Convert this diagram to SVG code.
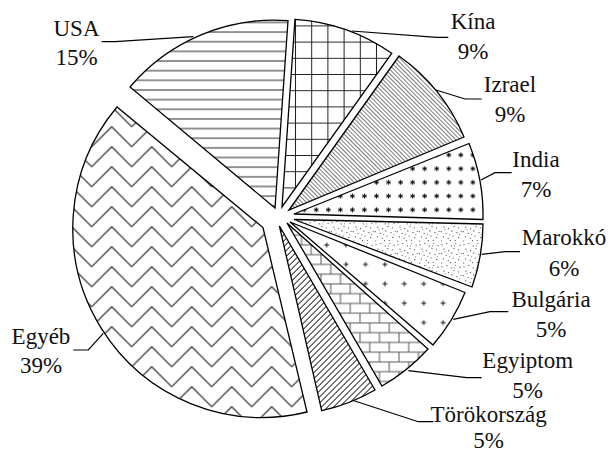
<svg xmlns="http://www.w3.org/2000/svg" width="611" height="451" viewBox="0 0 611 451">
<style>
.sl{stroke:#000;stroke-width:1.3;stroke-linejoin:miter}
.lb{font-size:23px;fill:#111;text-anchor:middle}
.ld{fill:none;stroke:#000;stroke-width:1.2}
</style>
<defs>
<pattern id="pUSA" patternUnits="userSpaceOnUse" x="0" y="36.9" width="40" height="9.65">
<path d="M0,4.8H40" stroke="#222" stroke-width="1"/>
</pattern>
<pattern id="pKina" patternUnits="userSpaceOnUse" x="303.6" y="50.2" width="16.2" height="16.2">
<path d="M8.1,0V16.2M0,8.1H16.2" stroke="#222" stroke-width="1"/>
</pattern>
<pattern id="pIzrael" patternUnits="userSpaceOnUse" width="3" height="10" patternTransform="rotate(-45)">
<path d="M1.5,0V10" stroke="#444" stroke-width="0.7"/>
</pattern>
<pattern id="pIndia" patternUnits="userSpaceOnUse" x="370.5" y="148.15" width="12.05" height="13.7">
<path d="M6,4.4V9.3M3.9,5.6L8.1,8.1M3.9,8.1L8.1,5.6" stroke="#111" stroke-width="1"/>
</pattern>
<pattern id="pMarokko" patternUnits="userSpaceOnUse" width="22" height="22">
<g fill="#333">
<rect x="1.5" y="2.3" width="1" height="1"/><rect x="6.2" y="1.1" width="1.2" height="0.8"/>
<rect x="10.8" y="3.4" width="1" height="1"/><rect x="15.3" y="0.9" width="0.9" height="0.9"/>
<rect x="19.6" y="2.8" width="1" height="1"/><rect x="3.4" y="6.7" width="1.2" height="0.9"/>
<rect x="8.1" y="8.2" width="1" height="1"/><rect x="13.5" y="6.1" width="1" height="1"/>
<rect x="17.9" y="7.4" width="0.9" height="1"/><rect x="0.8" y="11.2" width="1" height="1"/>
<rect x="5.6" y="12.9" width="1" height="0.9"/><rect x="11.2" y="10.5" width="1.2" height="1"/>
<rect x="16.4" y="12.1" width="1" height="1"/><rect x="20.7" y="10.9" width="0.9" height="0.9"/>
<rect x="2.9" y="16.4" width="1" height="1"/><rect x="7.7" y="17.8" width="1" height="1"/>
<rect x="12.6" y="15.6" width="1" height="0.9"/><rect x="18.2" y="17.1" width="1.1" height="1"/>
<rect x="1.2" y="20.6" width="1" height="0.9"/><rect x="9.9" y="20.2" width="1" height="1"/>
<rect x="14.8" y="19.9" width="0.9" height="1"/><rect x="4.6" y="9.3" width="0.8" height="0.8"/>
<rect x="14.1" y="3.5" width="0.8" height="0.8"/><rect x="9.3" y="14.3" width="0.8" height="0.8"/>
<rect x="19.4" y="14.4" width="0.8" height="0.8"/>
</g>
</pattern>
<pattern id="pBulg" patternUnits="userSpaceOnUse" x="317" y="235.3" width="19.4" height="19.4">
<path d="M7.2,9.7H12.2M9.7,7.2V12.2" stroke="#111" stroke-width="1"/>
</pattern>
<pattern id="pEgyip" patternUnits="userSpaceOnUse" x="355.1" y="327.8" width="19.5" height="19.5">
<path d="M0,4.875H19.5M0,14.625H19.5M4.875,4.875V14.625M14.625,14.625V19.5M14.625,0V4.875" stroke="#555" stroke-width="1"/>
</pattern>
<pattern id="pTorok" patternUnits="userSpaceOnUse" width="4.24" height="10" patternTransform="rotate(45)">
<path d="M2.12,0V10" stroke="#111" stroke-width="0.9"/>
</pattern>
<pattern id="pEgyeb" patternUnits="userSpaceOnUse" x="131.7" y="246.7" width="40" height="20">
<path d="M0,20L20,0L40,20M0,0L20,-20L40,0M0,40L20,20L40,40" fill="none" stroke="#222" stroke-width="1.2"/>
</pattern>
</defs>
<rect width="611" height="451" fill="#fff"/>

<g id="connectors">
<polyline class="ld" points="193.3,36.7 115,41.7 101.7,41.7"/>
<polyline class="ld" points="351.7,31 436.7,37.3 448.3,37.3"/>
<polyline class="ld" points="436,90 465,99 481.7,99"/>
<polyline class="ld" points="481,180 495,172.7 511.7,172.7"/>
<polyline class="ld" points="481.7,254.3 505,251.7 520,251.7"/>
<polyline class="ld" points="453.3,319.3 490,311.7 508.3,311.7"/>
<polyline class="ld" points="408.3,370.7 466.7,377.7 481.7,377.7"/>
<polyline class="ld" points="353.3,400.5 418.3,421.7 433.3,421.7"/>
<polyline class="ld" points="103.3,333.3 88.3,350 73.3,350"/>
</g>

<g font-family="Liberation Serif, DejaVu Serif, serif">
<g id="usa">
<path class="sl" fill="url(#pUSA)" d="M275,208L130,87A189,189 0 0 1 288,20.7Z"/>
<text class="lb" x="76.5" y="36">USA</text><text class="lb" x="76.5" y="65">15%</text>
</g>
<g id="kina">
<path class="sl" fill="url(#pKina)" d="M282,207L295,19.3A189,189 0 0 1 391.7,53.3Z"/>
<text class="lb" x="473" y="29.3">Kína</text><text class="lb" x="473" y="59.3">9%</text>
</g>
<g id="izrael">
<path class="sl" fill="url(#pIzrael)" d="M289,210L399,56A189,189 0 0 1 464,137Z"/>
<text class="lb" x="510" y="91.7">Izrael</text><text class="lb" x="510" y="121.7">9%</text>
</g>
<g id="india">
<path class="sl" fill="url(#pIndia)" d="M294,214L469,143.5A189,189 0 0 1 483,219.5Z"/>
<text class="lb" x="536" y="167.3">India</text><text class="lb" x="536" y="197">7%</text>
</g>
<g id="marokko">
<path class="sl" fill="url(#pMarokko)" d="M294,219.5L483,224A189,189 0 0 1 472,287Z"/>
<text class="lb" x="564" y="245">Marokkó</text><text class="lb" x="564" y="276">6%</text>
</g>
<g id="bulgaria">
<path class="sl" fill="url(#pBulg)" d="M290,222L465,292.5A189,189 0 0 1 433,345Z"/>
<text class="lb" x="551" y="306.7">Bulgária</text><text class="lb" x="551" y="337">5%</text>
</g>
<g id="egyiptom">
<path class="sl" fill="url(#pEgyip)" d="M287,223L428,349A189,189 0 0 1 382,386Z"/>
<text class="lb" x="527.7" y="368.3">Egyiptom</text><text class="lb" x="527.7" y="398.3">5%</text>
</g>
<g id="torokorszag">
<path class="sl" fill="url(#pTorok)" d="M279.4,226L375,390A189,189 0 0 1 321.7,410.7Z"/>
<text class="lb" x="488.6" y="421.7">Törökország</text><text class="lb" x="488.6" y="447.5">5%</text>
</g>
<g id="egyeb">
<path class="sl" fill="url(#pEgyeb)" d="M263,227.6L307,412A189,189 0 0 1 117,107Z"/>
<text class="lb" x="41" y="343.5">Egyéb</text><text class="lb" x="41" y="373.3">39%</text>
</g>
</g>
</svg>
